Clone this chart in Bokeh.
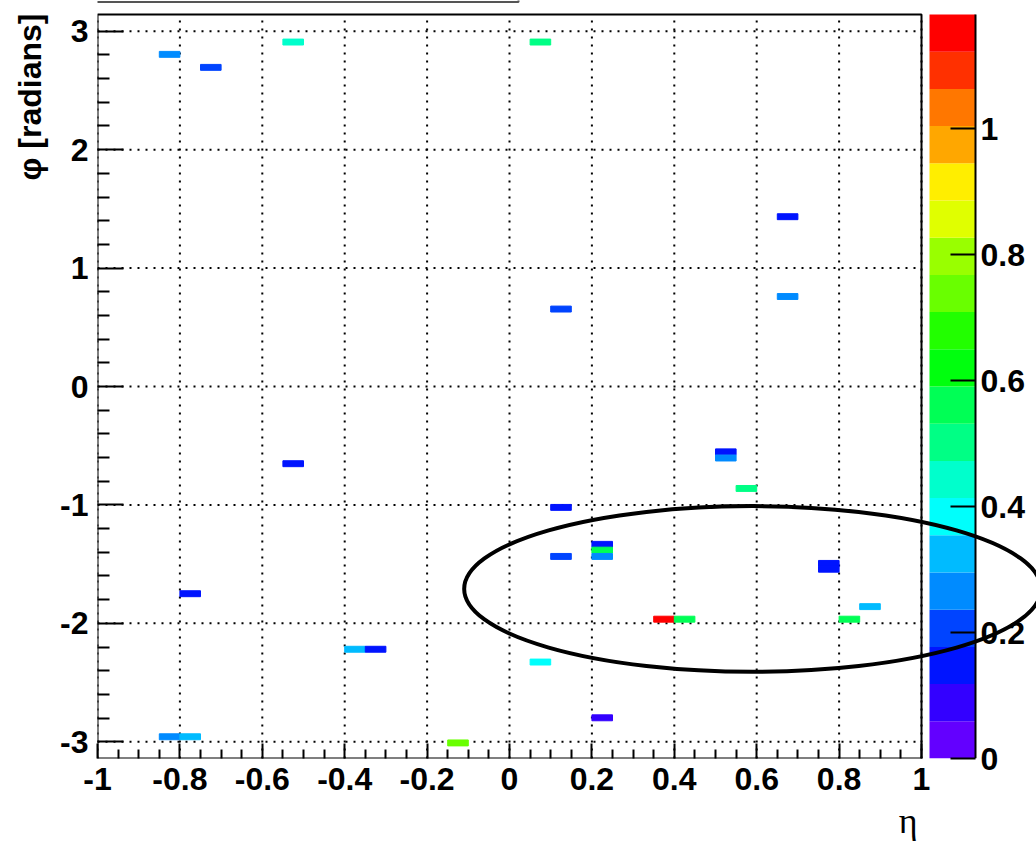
import math
import colorsys
import numpy as np
from bokeh.plotting import figure
from bokeh.models import (Range1d, FixedTicker, LinearColorMapper, ColorBar, Title,
                          ColumnDataSource)
from bokeh.embed import file_html
from bokeh.resources import INLINE

PI = math.pi

# ---------------- data ----------------
cell_eta = [-0.825, -0.725, -0.525, 0.075, 0.675, 0.675, 0.125, -0.525, 0.525, 0.525,
            0.575, 0.125, 0.225, 0.225, 0.225, 0.125, 0.775, 0.775, -0.775, 0.375,
            0.425, 0.825, 0.875, -0.375, -0.325, 0.075, 0.225, -0.825, -0.775, -0.125]
cell_phi = [2.805, 2.695, 2.909, 2.909, 1.434, 0.760, 0.654, -0.652, -0.552, -0.604,
            -0.861, -1.021, -1.333, -1.382, -1.435, -1.435, -1.494, -1.543, -1.750, -1.965,
            -1.965, -1.965, -1.859, -2.219, -2.219, -2.327, -2.798, -2.958, -2.958, -3.010]
cell_val = [0.266, 0.207, 0.443, 0.502, 0.148, 0.266, 0.207, 0.148, 0.148, 0.266,
            0.502, 0.148, 0.148, 0.561, 0.266, 0.207, 0.148, 0.148, 0.148, 1.181,
            0.561, 0.561, 0.325, 0.325, 0.148, 0.384, 0.089, 0.266, 0.325, 0.738]

cone_eta = [0.59]
cone_phi = [-1.71]
cone_r = [0.70]

x_ticks = [-1.0, -0.8, -0.6, -0.4, -0.2, 0.0, 0.2, 0.4, 0.6, 0.8, 1.0]
x_tick_labels = ["-1", "-0.8", "-0.6", "-0.4", "-0.2", "0", "0.2", "0.4", "0.6", "0.8", "1"]
y_ticks = [-3.0, -2.0, -1.0, 0.0, 1.0, 2.0, 3.0]
y_tick_labels = ["-3", "-2", "-1", "0", "1", "2", "3"]
z_ticks = [0.0, 0.2, 0.4, 0.6, 0.8, 1.0]
z_tick_labels = ["0", "0.2", "0.4", "0.6", "0.8", "1"]

x_title = "η"
y_title = "φ [radians]"

# ---------------- style ----------------
N_LEVELS = 20
ZMAX = max(cell_val)
BIN_W = 0.05
BIN_H = 0.05


def root_palette(ncont=20, ncol=50):
    # ROOT "pretty" palette (hue 280 -> 0) sampled for the contour levels
    cols = []
    for j in range(ncont):
        idx = int((j + 0.99) * ncol / ncont)
        hue = 280.0 - (idx + 1) * (280.0 / ncol)
        r, g, b = colorsys.hls_to_rgb(hue / 360.0, 0.5, 1.0)
        cols.append("#%02x%02x%02x" % (round(r * 255), round(g * 255), round(b * 255)))
    return cols


palette = root_palette(N_LEVELS)

FONT = "Liberation Sans"
FS = "32px"
PX_PER_ETA = 412.0
PX_PER_PHI = 744.0 / (2 * PI)
TOP_PAD = 14.0
X_END = -1.0 + 939.0 / PX_PER_ETA
Y_END = PI + TOP_PAD / PX_PER_PHI
CB_L = -1.0 + (929 - 97) / PX_PER_ETA
CB_R = -1.0 + (975 - 97) / PX_PER_ETA

p = figure(width=1036, height=849, output_backend="svg", toolbar_location=None,
           x_range=Range1d(-1.0, X_END), y_range=Range1d(-PI, Y_END),
           min_border_left=97, min_border_right=0, min_border_top=0, min_border_bottom=91,
           title=y_title, title_location="left")
p.extra_y_ranges = {"z": Range1d(0, ZMAX * (744.0 + TOP_PAD) / 744.0)}
p.outline_line_color = None
p.background_fill_color = "white"
p.border_fill_color = "white"
p.xgrid.visible = False
p.ygrid.visible = False

p.title.align = "right"
p.title.offset = TOP_PAD - 1
p.title.text_font = FONT
p.title.text_font_style = "bold"
p.title.text_font_size = "32px"
p.title.text_color = "black"
p.title.standoff = 19

p.add_layout(Title(text=x_title, align="right", offset=119, text_font="Liberation Serif",
                   text_font_style="normal", text_font_size="36px", text_color="black",
                   standoff=12), "below")

# axes
xminor = [round(-1 + 0.05 * i, 2) for i in range(41)]
xminor = [v for v in xminor if v not in x_ticks]
yminor = [round(-3 + 0.2 * i, 1) for i in range(31)]
yminor = [v for v in yminor if v not in y_ticks]

xa = p.xaxis[0]
xa.ticker = FixedTicker(ticks=x_ticks, minor_ticks=xminor)
xa.major_label_overrides = dict(zip(x_ticks, x_tick_labels))
xa.axis_line_color = None
xa.major_tick_in = 15
xa.major_tick_out = 0
xa.minor_tick_in = 9
xa.minor_tick_out = 0
xa.major_tick_line_width = 2
xa.minor_tick_line_width = 2
xa.major_label_standoff = 9
xa.major_label_text_font = FONT
xa.major_label_text_font_style = "bold"
xa.major_label_text_font_size = FS
xa.major_label_text_color = "black"

ya = p.yaxis[0]
ya.ticker = FixedTicker(ticks=y_ticks, minor_ticks=yminor)
ya.major_label_overrides = dict(zip(y_ticks, y_tick_labels))
ya.axis_line_color = None
ya.major_tick_in = 26
ya.major_tick_out = 0
ya.minor_tick_in = 12
ya.minor_tick_out = 0
ya.major_tick_line_width = 2
ya.minor_tick_line_width = 2
ya.major_label_standoff = 9
ya.major_label_text_font = FONT
ya.major_label_text_font_style = "bold"
ya.major_label_text_font_size = FS
ya.major_label_text_color = "black"
ya.major_label_orientation = "horizontal"

# colour bar bands (drawn on the z range)
levels = np.linspace(0, ZMAX, N_LEVELS + 1)
p.quad(left=CB_L, right=CB_R, bottom=levels[:-1], top=levels[1:], fill_color=palette,
       line_color=None, y_range_name="z")
p.segment(x0=[CB_R], x1=[CB_R], y0=[-PI], y1=[PI], line_color="black", line_width=2)

# dotted grid
p.segment(x0=x_ticks, x1=x_ticks, y0=-PI, y1=PI, line_color="black", line_width=2,
          line_dash="2 6")
p.segment(x0=-1.0, x1=1.0, y0=y_ticks, y1=y_ticks, line_color="black", line_width=2,
          line_dash="2 6")

# cells
mapper = LinearColorMapper(palette=palette, low=0, high=ZMAX)
src = ColumnDataSource(dict(eta=cell_eta, phi=cell_phi, val=cell_val))
p.rect(x="eta", y="phi", width=BIN_W, height=BIN_H, source=src,
       fill_color={"field": "val", "transform": mapper},
       line_color={"field": "val", "transform": mapper}, line_width=1)

# frame
p.quad(left=[-1.0], right=[1.0], bottom=[-PI], top=[PI], fill_color=None,
       line_color="black", line_width=2)

# title pave edge (top-left, partly outside the frame)
pave_y = PI + (TOP_PAD - 1.5) / PX_PER_PHI
pave_x = -1.0 + (518 - 97) / PX_PER_ETA
p.line(x=[-1.3, pave_x, pave_x], y=[pave_y, pave_y, Y_END + 0.1], line_color="#555555",
       line_width=2)

# cone
p.ellipse(x=cone_eta, y=cone_phi, width=[2 * r for r in cone_r],
          height=[2 * r for r in cone_r], fill_color=None, line_color="black",
          line_width=4)

# colour bar ticks & labels
cb = ColorBar(color_mapper=mapper, location=(832, 0), width=46, height=744, padding=0,
              margin=0, scale_alpha=0, ticker=FixedTicker(ticks=z_ticks),
              major_label_overrides=dict(zip(z_ticks, z_tick_labels)),
              major_tick_in=25, major_tick_out=0, major_tick_line_color="black",
              major_tick_line_width=2, minor_tick_line_color=None, bar_line_color=None,
              border_line_color=None, background_fill_color=None, background_fill_alpha=0,
              label_standoff=5, major_label_text_font=FONT,
              major_label_text_font_style="bold", major_label_text_font_size=FS,
              major_label_text_color="black")
p.add_layout(cb, "center")

open("out.html", "w").write(file_html(p, INLINE))
